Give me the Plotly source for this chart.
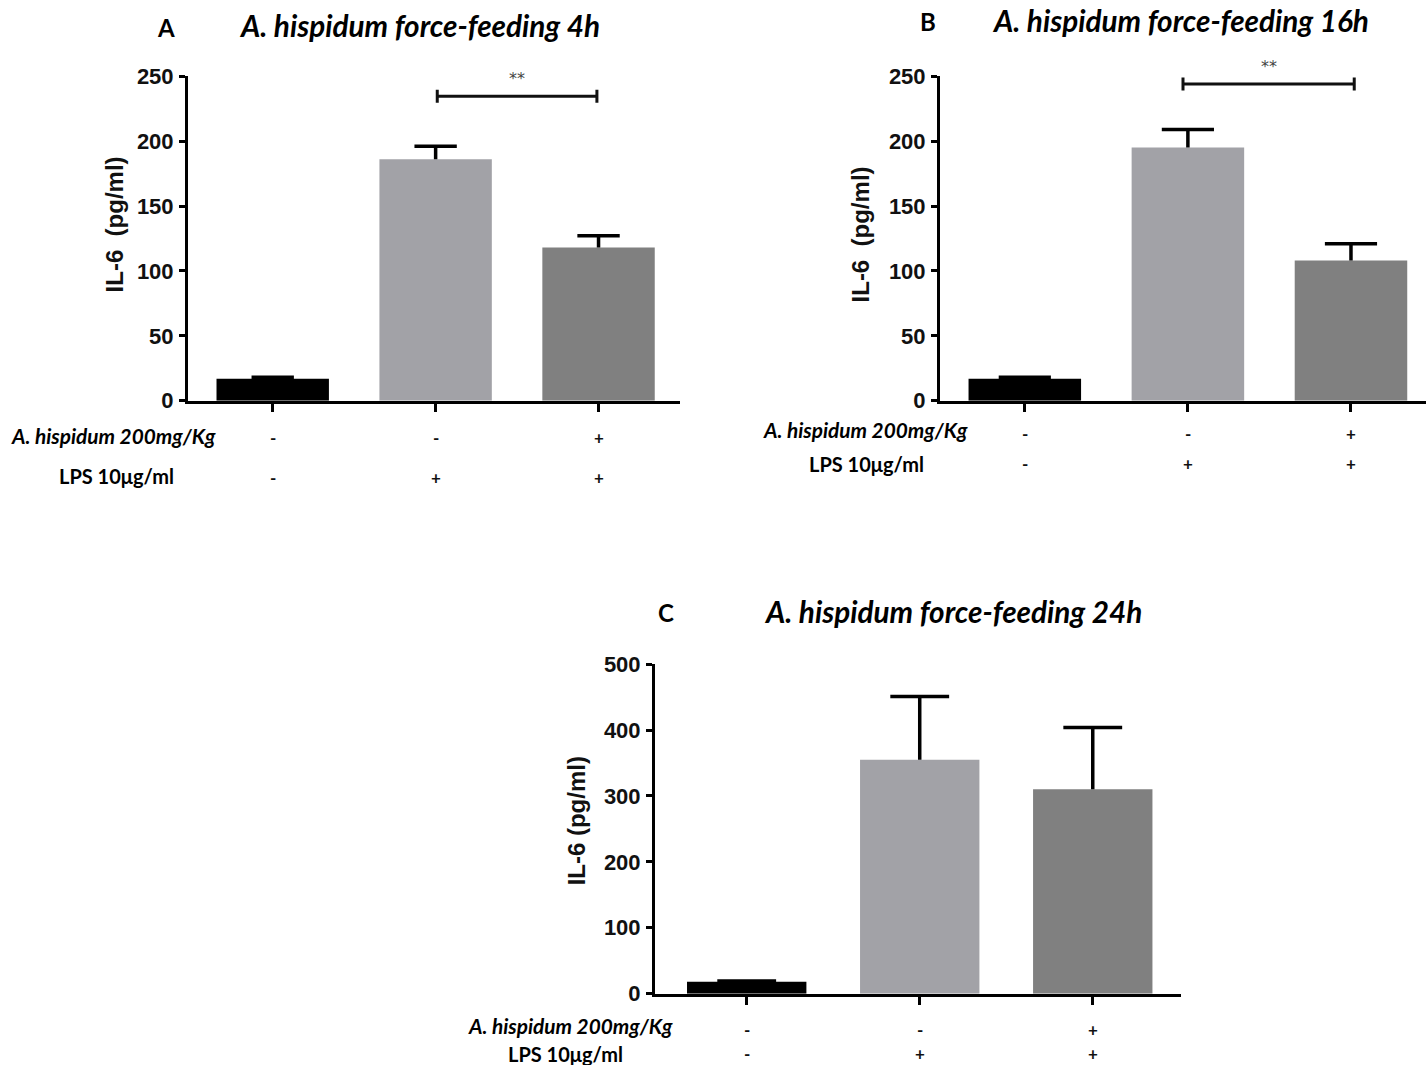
import plotly.graph_objects as go

W, H = 1426, 1065

groups = ["Control", "LPS", "LPS + A. hispidum"]
bar_colors = ["#000000", "#a2a2a7", "#808080"]

# Panel A (4h)
a_vals = [17, 186, 118]
a_err = [1, 10, 9]
# Panel B (16h)
b_vals = [17, 195, 108]
b_err = [1, 14, 13]
# Panel C (24h)
c_vals = [18, 355, 310]
c_err = [1, 96, 94]

ah_signs = ["-", "-", "+"]
lps_signs = ["-", "+", "+"]

titles = ["A. hispidum force-feeding 4h", "A. hispidum force-feeding 16h", "A. hispidum force-feeding 24h"]
letters = ["A", "B", "C"]
ytitles = ["IL-6  (pg/ml)", "IL-6  (pg/ml)", "IL-6 (pg/ml)"]
ah_label = "<i>A. hispidum 200mg/Kg</i>"
lps_label = "LPS 10\u03bcg/ml"

sig_a = dict(x0=1.01, x1=1.99, y=234.5, text="**")
sig_b = dict(x0=0.97, x1=2.02, y=244, text="**")


def px(x):
    return x / W


def py(y):
    # vertical pixel position in the photographed page -> paper fraction
    return 1 - ((y - 12.9) / 0.975) / H


fig = go.Figure()
xpos = list(range(len(groups)))

panels = [
    dict(vals=a_vals, err=a_err, xa="x", ya="y", cap=0.13),
    dict(vals=b_vals, err=b_err, xa="x2", ya="y2", cap=0.16),
    dict(vals=c_vals, err=c_err, xa="x3", ya="y3", cap=0.17),
]
for p in panels:
    fig.add_trace(go.Bar(
        x=xpos, y=p["vals"], xaxis=p["xa"], yaxis=p["ya"],
        marker=dict(color=bar_colors, line=dict(width=0)),
        width=0.69, showlegend=False, hoverinfo="skip",
    ))
    ex, ey = [], []
    for i, (v, e) in enumerate(zip(p["vals"], p["err"])):
        ex += [i, i, None, i - p["cap"], i + p["cap"], None]
        ey += [v, v + e, None, v + e, v + e, None]
    fig.add_trace(go.Scatter(
        x=ex, y=ey, xaxis=p["xa"], yaxis=p["ya"], mode="lines",
        line=dict(color="#000000", width=3.5), showlegend=False, hoverinfo="skip",
    ))

tickfont = dict(family="Liberation Sans, Arial, sans-serif", size=22, color="#111111", weight="bold")

common_x = dict(showline=True, linewidth=3, linecolor="#000000", ticks="outside",
                ticklen=8, tickwidth=3, tickcolor="#000000", showticklabels=False,
                tickvals=xpos, showgrid=False, zeroline=False)
common_y = dict(showline=True, linewidth=3, linecolor="#000000", ticks="outside",
                ticklen=6, tickwidth=3, tickcolor="#000000", tickfont=tickfont,
                showgrid=False, zeroline=False, ticklabelstandoff=1)

fig.update_layout(
    width=W, height=H, margin=dict(l=0, r=0, t=0, b=0),
    paper_bgcolor="white", plot_bgcolor="white",
    xaxis=dict(domain=[px(188), px(680)], range=[-0.52, 2.5], anchor="y", **common_x),
    yaxis=dict(domain=[py(401), py(77)], range=[0, 250], tickvals=[0, 50, 100, 150, 200, 250],
               anchor="x", **common_y),
    xaxis2=dict(domain=[px(940), 1.0], range=[-0.52, 2.46], anchor="y2", **common_x),
    yaxis2=dict(domain=[py(401), py(77)], range=[0, 250], tickvals=[0, 50, 100, 150, 200, 250],
                anchor="x2", **common_y),
    xaxis3=dict(domain=[px(655), px(1181)], range=[-0.53, 2.51], anchor="y3", **common_x),
    yaxis3=dict(domain=[py(993), py(664)], range=[0, 500], tickvals=[0, 100, 200, 300, 400, 500],
                anchor="x3", **common_y),
)

# significance brackets
for s, xr, yr in [(sig_a, "x", "y"), (sig_b, "x2", "y2")]:
    line = dict(color="#111111", width=3)
    fig.add_shape(type="line", xref=xr, yref=yr, x0=s["x0"], x1=s["x1"], y0=s["y"], y1=s["y"], line=line)
    for xx in (s["x0"], s["x1"]):
        fig.add_shape(type="line", xref=xr, yref=yr, x0=xx, x1=xx, y0=s["y"] - 5, y1=s["y"] + 5, line=line)
    fig.add_annotation(xref=xr, yref=yr, x=(s["x0"] + s["x1"]) / 2, y=s["y"] + 5, text=s["text"],
                       showarrow=False, yanchor="bottom",
                       font=dict(family="DejaVu Sans, sans-serif", size=16, color="#444444"))

title_font = dict(family="Lato, sans-serif", size=29.7, color="#000000", weight="bold")
letter_font = dict(family="Lato, sans-serif", size=24, color="#000000", weight="bold")
ah_font = dict(family="Lato, sans-serif", size=20.8, color="#000000", weight="bold")
lps_font = dict(family="Lato, sans-serif", size=20, color="#000000", weight="bold")
sign_font = dict(family="Lato, sans-serif", size=17, color="#111111", weight="bold")
ytitle_font = dict(family="Liberation Sans, Arial, sans-serif", size=24, color="#111111", weight="bold")

layout_info = [
    dict(xr="x", letter=(166, 28.5), title=(237, 26.5), ytitle=(114, 225),
         ah=(218, 436), lps=(176, 476), row1=438, row2=478),
    dict(xr="x2", letter=(928, 22.5), title=(990, 21.7), ytitle=(860, 235),
         ah=(970, 430), lps=(926, 464), row1=434, row2=464),
    dict(xr="x3", letter=(666, 612), title=(762, 611), ytitle=(576, 821),
         ah=(675, 1025), lps=(625, 1053), row1=1029, row2=1053),
]

for i, li in enumerate(layout_info):
    fig.add_annotation(xref="paper", yref="paper", x=px(li["letter"][0]), y=py(li["letter"][1]),
                       text=letters[i], showarrow=False, xanchor="center", yanchor="middle", font=letter_font)
    fig.add_annotation(xref="paper", yref="paper", x=px(li["title"][0]), y=py(li["title"][1]),
                       text="<i>" + titles[i] + "</i>", showarrow=False, xanchor="left", yanchor="middle",
                       font=title_font)
    fig.add_annotation(xref="paper", yref="paper", x=px(li["ytitle"][0]), y=py(li["ytitle"][1]),
                       text=ytitles[i], showarrow=False, textangle=-90, xanchor="center", yanchor="middle",
                       font=ytitle_font)
    fig.add_annotation(xref="paper", yref="paper", x=px(li["ah"][0]), y=py(li["ah"][1]),
                       text=ah_label, showarrow=False, xanchor="right", yanchor="middle", font=ah_font)
    fig.add_annotation(xref="paper", yref="paper", x=px(li["lps"][0]), y=py(li["lps"][1]),
                       text=lps_label, showarrow=False, xanchor="right", yanchor="middle", font=lps_font)
    for xi, s1, s2 in zip(xpos, ah_signs, lps_signs):
        fig.add_annotation(xref=li["xr"], yref="paper", x=xi, y=py(li["row1"]), text=s1,
                           showarrow=False, xanchor="center", yanchor="middle", font=sign_font)
        fig.add_annotation(xref=li["xr"], yref="paper", x=xi, y=py(li["row2"]), text=s2,
                           showarrow=False, xanchor="center", yanchor="middle", font=sign_font)

fig.write_html(
    "out.html",
    config={"displayModeBar": False, "staticPlot": True},
    post_script=("document.documentElement.style.margin='0';document.documentElement.style.overflow='hidden';"
                 "document.body.style.margin='0';document.body.style.padding='0';document.body.style.overflow='hidden';"),
)
